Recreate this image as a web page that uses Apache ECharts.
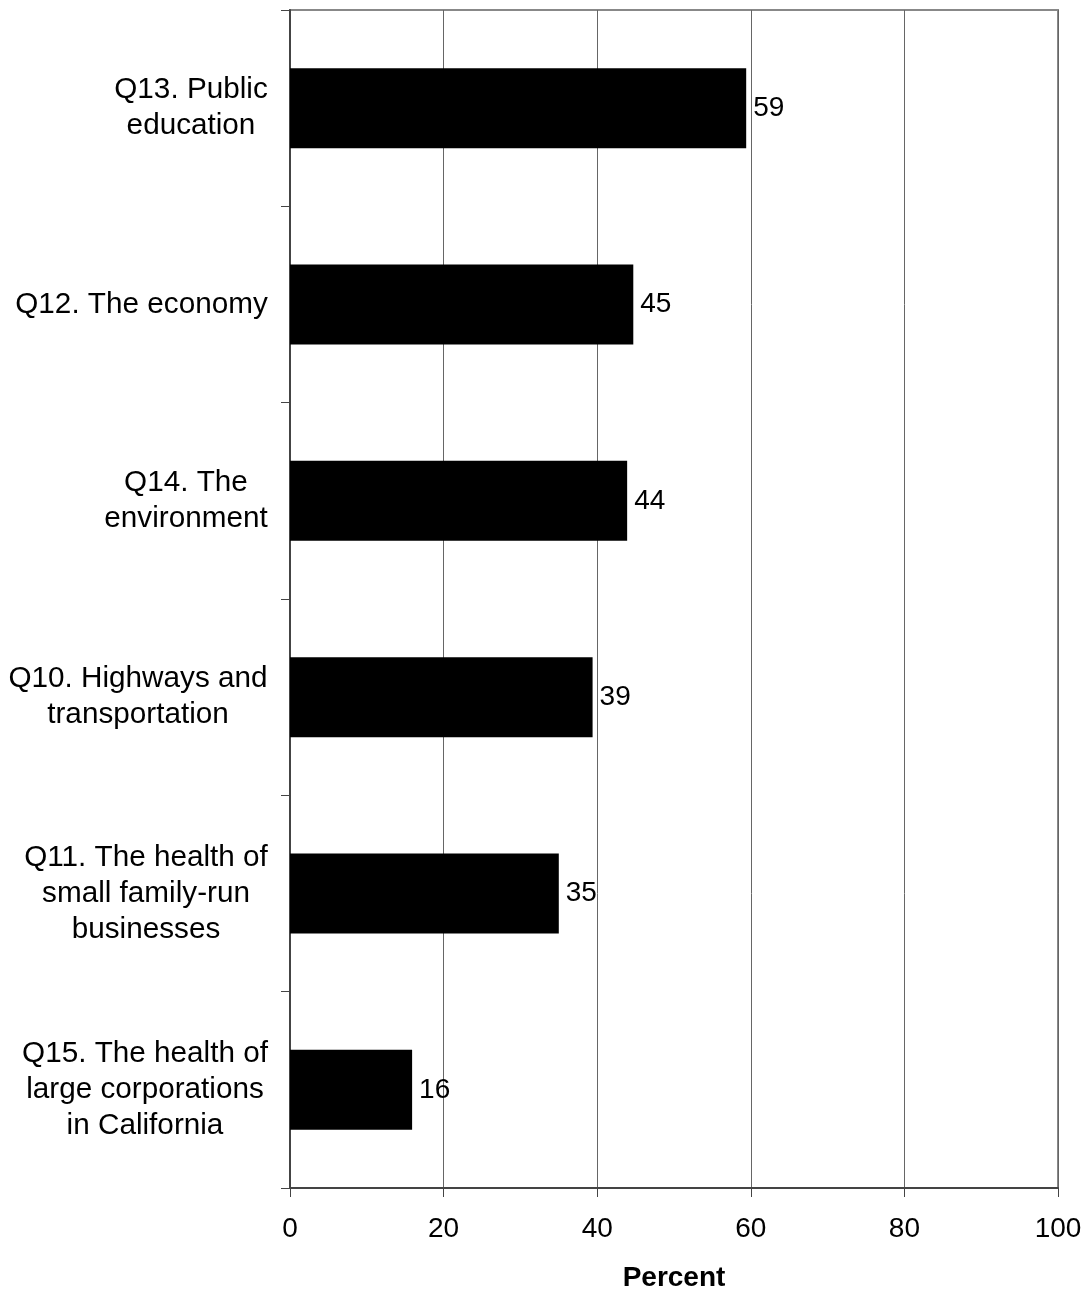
<!DOCTYPE html>
<html>
<head>
<meta charset="utf-8">
<script src="https://cdn.jsdelivr.net/npm/echarts@6/dist/echarts.min.js"></script>
<style>
  html, body { margin: 0; padding: 0; background: #fff; }
  #chart { width: 1088px; height: 1292px; }
</style>
</head>
<body>
<div id="chart"></div>
<script>
// 类别（从上到下）
const categories = [
  'Q13. Public\neducation',
  'Q12. The economy',
  'Q14. The\nenvironment',
  'Q10. Highways and\ntransportation',
  'Q11. The health of\nsmall family-run\nbusinesses',
  'Q15. The health of\nlarge corporations\nin California'
];
// 百分比
const percents = [59.4, 44.7, 43.9, 39.4, 35.0, 15.9];
const xTicks = { min: 0, max: 100, interval: 20 };

const myChart = echarts.init(document.getElementById('chart'));
const font = 'Liberation Sans, Arial, sans-serif';
const labelSize = 29.7;

// 每个类别标签：各行居中，整体靠右
const ctx = document.createElement('canvas').getContext('2d');
ctx.font = labelSize + 'px ' + font;
const rich = {};
categories.forEach((c, i) => {
  const w = Math.max(...c.split('\n').map(l => ctx.measureText(l).width));
  rich['c' + i] = { width: Math.ceil(w), align: 'center', fontFamily: font, fontSize: labelSize, lineHeight: 36, color: '#000' };
});

myChart.setOption({
  animation: false,
  grid: {
    left: 290, right: 30, top: 10, bottom: 104,
    outerBoundsMode: 'none',
    show: true, borderColor: '#888', borderWidth: 2
  },
  xAxis: {
    type: 'value',
    min: xTicks.min,
    max: xTicks.max,
    interval: xTicks.interval,
    name: 'Percent',
    nameLocation: 'middle',
    nameGap: 76,
    nameTextStyle: { fontFamily: font, fontSize: 28, fontWeight: 'bold', color: '#000' },
    axisLine: { show: true, lineStyle: { color: '#444', width: 2 } },
    axisTick: { show: true, length: 9, lineStyle: { color: '#444', width: 1 } },
    axisLabel: { fontFamily: font, fontSize: 28, color: '#000', margin: 27 },
    splitLine: { show: true, lineStyle: { color: '#666', width: 1 } }
  },
  yAxis: {
    type: 'category',
    data: categories,
    inverse: true,
    axisLine: { show: true, lineStyle: { color: '#444', width: 2 } },
    axisTick: { show: true, length: 9, lineStyle: { color: '#444', width: 1 } },
    axisLabel: {
      fontFamily: font, fontSize: labelSize, color: '#000', margin: 22, lineHeight: 36, align: 'right',
      formatter: (value, idx) => value.split('\n').map(l => '{c' + idx + '|' + l + '}').join('\n'),
      rich: rich
    },
    splitLine: { show: false }
  },
  series: [{
    type: 'bar',
    data: percents,
    barWidth: 80,
    itemStyle: { color: '#000' },
    label: {
      show: true,
      position: 'right',
      distance: 7,
      fontFamily: font,
      fontSize: 28,
      color: '#000',
      formatter: p => Math.round(p.value)
    }
  }]
});
</script>
</body>
</html>
